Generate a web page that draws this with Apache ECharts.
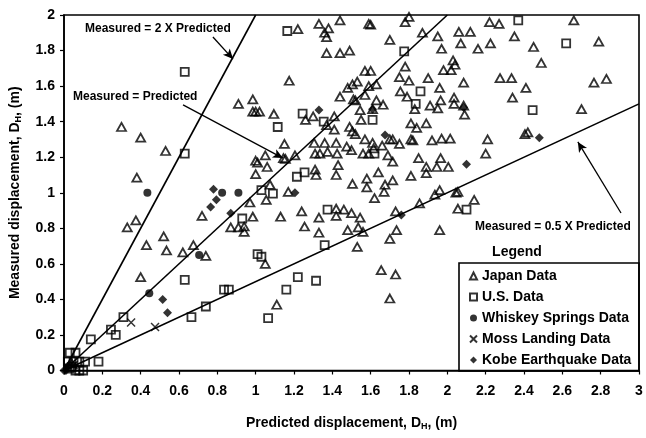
<!DOCTYPE html>
<html>
<head>
<meta charset="utf-8">
<script src="https://cdn.jsdelivr.net/npm/echarts@6/dist/echarts.min.js"></script>
<style>html,body{margin:0;padding:0;background:#fff}#c{width:646px;height:438px}</style>
</head>
<body>
<div id="c"></div>
<script>
// ---- data (predicted, measured) in metres ----
const japanData = [
[0.30,1.37],[0.40,1.31],[0.53,1.235],[0.38,1.085],[0.91,1.50],[0.985,1.525],[0.985,1.456],[1.00,1.456],[1.02,1.456],[1.00,1.18],[1.00,1.105],
[1.22,1.92],[1.33,1.95],[1.38,1.925],[1.36,1.90],[1.37,1.875],[1.44,1.97],[1.59,1.95],[1.60,1.945],[1.78,1.96],[1.80,1.99],[1.87,1.90],[1.95,1.88],[1.70,1.86],[1.37,1.785],[1.44,1.785],[1.49,1.80],[1.97,1.81],
[1.175,1.63],[1.57,1.685],[1.60,1.685],[1.78,1.71],[1.98,1.69],[1.75,1.65],[1.80,1.63],[1.90,1.645],[1.96,1.59],[1.48,1.59],[1.505,1.61],[1.53,1.625],[1.59,1.60],[1.63,1.61],
[1.44,1.54],[1.51,1.525],[1.52,1.52],[1.57,1.55],[1.63,1.52],[1.665,1.495],[1.755,1.57],[1.79,1.54],[1.83,1.47],[1.91,1.49],[1.95,1.475],[1.965,1.52],
[1.095,1.443],[1.26,1.41],[1.30,1.43],[1.37,1.38],[1.41,1.43],[1.41,1.355],[1.545,1.465],[1.55,1.41],[1.61,1.47],[1.81,1.39],[1.84,1.365],[1.89,1.39],[1.49,1.37],[1.505,1.345],[1.52,1.33],
[1.15,1.275],[1.05,1.21],[1.01,1.17],[1.06,1.145],[1.145,1.195],[1.155,1.19],[1.205,1.21],[1.305,1.28],[1.31,1.22],[1.335,1.22],[1.36,1.28],[1.375,1.23],[1.42,1.28],[1.425,1.22],[1.475,1.26],[1.50,1.24],[1.57,1.30],[1.61,1.28],[1.615,1.25],[1.66,1.265],[1.70,1.30],[1.715,1.30],[1.75,1.275],[1.81,1.30],[1.82,1.295],[1.92,1.295],[1.97,1.305],[2.015,1.305],
[1.56,1.22],[1.59,1.22],[1.69,1.21],[1.715,1.175],[1.85,1.195],[1.89,1.145],[1.89,1.11],[1.945,1.145],[1.965,1.195],[1.43,1.155],[1.31,1.13],[1.315,1.10],[1.42,1.10],[1.64,1.115],[1.58,1.08],[1.715,1.07],[1.81,1.095],[1.505,1.05],[1.58,1.03],[1.675,1.045],[1.075,1.045],[1.17,1.005],[1.67,1.005],[1.96,1.015],
[2.22,1.96],[2.27,1.95],[2.66,1.97],[2.06,1.905],[2.12,1.905],[2.35,1.88],[2.07,1.84],[2.16,1.81],[2.225,1.84],[2.45,1.82],[2.79,1.85],[2.49,1.73],[2.03,1.745],[2.04,1.72],[2.02,1.69],[2.275,1.645],[2.335,1.645],[2.41,1.59],[2.765,1.62],[2.83,1.64],[2.085,1.62],[2.34,1.535],[2.035,1.535],[2.035,1.50],[2.085,1.49],[2.09,1.44],[2.70,1.47],[2.405,1.33],[2.42,1.34],[2.21,1.30],[2.20,1.22],[2.005,1.145],[2.055,1.005],[2.045,1.0],
[0.33,0.805],[0.375,0.845],[0.72,0.87],[0.97,0.945],[0.985,0.865],[0.87,0.805],[0.91,0.805],[0.94,0.81],[0.94,0.78],[0.43,0.705],[0.52,0.755],[0.535,0.675],[0.62,0.665],[0.675,0.705],[0.74,0.645],[0.40,0.525],
[1.055,0.96],[1.62,0.97],[1.935,0.99],[1.855,0.94],[1.13,0.865],[1.24,0.895],[1.33,0.86],[1.42,0.91],[1.46,0.905],[1.50,0.885],[1.545,0.86],[1.42,0.87],[1.73,0.895],[1.255,0.81],[1.33,0.775],[1.48,0.79],[1.535,0.805],[1.56,0.78],[1.735,0.79],[1.70,0.74],[1.96,0.79],[1.05,0.60],[1.53,0.695],[1.11,0.37],[1.655,0.565],[1.73,0.54],[1.70,0.405],[2.055,0.91],[2.14,0.96],[0.04,0.04]
];
const usData = [
[0.63,1.68],[0.63,1.22],[1.165,1.91],[1.775,1.795],[1.86,1.57],[1.835,1.50],[1.245,1.445],[1.115,1.37],[1.355,1.40],[1.61,1.41],[1.62,1.22],[1.215,1.09],[1.255,1.115],[1.03,1.015],[1.09,0.995],[2.37,1.97],[2.62,1.84],[2.445,1.465],
[0.93,0.855],[1.01,0.655],[1.03,0.64],[0.63,0.51],[0.835,0.455],[0.86,0.455],[0.74,0.36],[0.665,0.30],[0.31,0.30],[0.245,0.23],[0.27,0.20],[0.14,0.175],[0.18,0.05],
[1.375,0.905],[1.36,0.705],[1.22,0.525],[1.315,0.505],[1.16,0.455],[1.065,0.295],[2.10,0.905],
[0.03,0.10],[0.06,0.10],[0.02,0.05],[0.05,0.05],[0.08,0.05],[0.11,0.05],[0.03,0.01],[0.06,0.0],[0.08,0.0],[0.10,0.0],[0.04,0.02]
];
const whiskeyData = [[0.435,1.0],[0.825,1.0],[0.91,1.0],[0.445,0.435],[0.705,0.65],[0.02,0.02]];
const mossData = [[0.35,0.27],[0.475,0.245],[0.05,0.03]];
const kobeData = [[1.205,1.0],[0.78,1.02],[0.795,0.96],[0.765,0.92],[0.87,0.885],[0.515,0.40],[0.54,0.325],[1.33,1.465],[1.61,1.47],[1.675,1.325],[1.76,0.875],[2.085,1.48],[2.48,1.31],[2.10,1.16],[0.0,0.0],[0.01,0.0]];
// reference lines
const lineTwice = [[0,0],[1,2]];
const lineEqual = [[0,0],[2,2]];
const lineHalf = [[0,0],[3,1.5]];
// annotation arrows (from, to) in data units
const arrows = [
  [[0.777,1.876],[0.882,1.752]],
  [[0.621,1.494],[1.142,1.195]],
  [[2.906,0.886],[2.681,1.286]]
];
const seriesNames = ['Japan Data','U.S. Data','Whiskey Springs Data','Moss Landing Data','Kobe Earthquake Data'];
const xTicks = {min:0, max:3, interval:0.2};
const yTicks = {min:0, max:2, interval:0.2};

const FONT = '"Liberation Sans", Arial, Helvetica, sans-serif';
const chart = echarts.init(document.getElementById('c'));
const hollow = {color:'rgba(255,255,255,0)', borderColor:'#000', borderWidth:1.8};
const solid = {color:'#000', borderColor:'#000', borderWidth:0};
const fmt = v => String(+v.toFixed(1));
const refLine = d => ({type:'line', data:d, symbol:'none', silent:true, z:1,
  lineStyle:{color:'#000', width:1.6}, animation:false});

chart.setOption({
  animation:false,
  backgroundColor:'#fff',
  grid:{left:64, right:7, top:15, bottom:67.5, show:true, borderColor:'#000', borderWidth:1.6, backgroundColor:'transparent'},
  xAxis:{type:'value', min:xTicks.min, max:xTicks.max, interval:xTicks.interval,
    splitLine:{show:false},
    axisLine:{show:true, onZero:false, lineStyle:{color:'#000', width:1.6}},
    axisTick:{show:true, inside:false, length:4, lineStyle:{color:'#000', width:1.2}},
    axisLabel:{formatter:fmt, color:'#000', fontFamily:FONT, fontWeight:'bold', fontSize:14, margin:14},
    name:'{a|Predicted displacement, D}{b|H}{a|, (m)}', nameLocation:'middle', nameGap:45,
    nameTextStyle:{rich:{
      a:{fontFamily:FONT, fontWeight:'bold', fontSize:14, color:'#000', lineHeight:16},
      b:{fontFamily:FONT, fontWeight:'bold', fontSize:9, color:'#000', lineHeight:9, verticalAlign:'bottom'}}}
  },
  yAxis:{type:'value', min:yTicks.min, max:yTicks.max, interval:yTicks.interval,
    splitLine:{show:false},
    axisLine:{show:true, onZero:false, lineStyle:{color:'#000', width:1.6}},
    axisTick:{show:true, inside:false, length:4, lineStyle:{color:'#000', width:1.2}},
    axisLabel:{formatter:fmt, color:'#000', fontFamily:FONT, fontWeight:'bold', fontSize:14, margin:9},
    name:'{a|Measured displacement, D}{b|H}{a|, (m)}', nameLocation:'middle', nameGap:41,
    nameTextStyle:{rich:{
      a:{fontFamily:FONT, fontWeight:'bold', fontSize:14, color:'#000', lineHeight:16},
      b:{fontFamily:FONT, fontWeight:'bold', fontSize:9, color:'#000', lineHeight:9, verticalAlign:'bottom'}}}
  },
  legend:{data:seriesNames, orient:'vertical', left:469, top:269, itemWidth:7, itemHeight:7, itemGap:7, padding:0,
    selectedMode:false,
    textStyle:{fontFamily:FONT, fontWeight:'bold', fontSize:14, color:'#000'}},
  graphic:[
    {type:'rect', shape:{x:459, y:263, width:180, height:108}, style:{fill:'#fff', stroke:'#000', lineWidth:1.6}, z:-1},
    {type:'text', x:517, y:252, style:{text:'Legend', fontFamily:FONT, fontWeight:'bold', fontSize:14, fill:'#000', align:'center', verticalAlign:'middle'}},
    {type:'text', x:85, y:29, style:{text:'Measured = 2 X Predicted', fontFamily:FONT, fontWeight:'bold', fontSize:12, fill:'#000', verticalAlign:'middle'}},
    {type:'text', x:73, y:97, style:{text:'Measured = Predicted', fontFamily:FONT, fontWeight:'bold', fontSize:12, fill:'#000', verticalAlign:'middle'}},
    {type:'text', x:475, y:227, style:{text:'Measured = 0.5 X Predicted', fontFamily:FONT, fontWeight:'bold', fontSize:12, fill:'#000', verticalAlign:'middle'}}
  ],
  series:[
    refLine(lineTwice),
    refLine(lineEqual),
    Object.assign(refLine(lineHalf), {
      markLine:{silent:true, symbol:['none','arrow'], symbolSize:[7,10], label:{show:false},
        lineStyle:{color:'#000', width:1.3, type:'solid'},
        data:arrows.map(a => [{coord:a[0]},{coord:a[1]}])}
    }),
    {name:seriesNames[0], type:'scatter', data:japanData, symbol:'triangle', symbolSize:[9,8], itemStyle:hollow, z:3},
    {name:seriesNames[1], type:'scatter', data:usData, symbol:'rect', symbolSize:8, itemStyle:hollow, z:3},
    {name:seriesNames[2], type:'scatter', data:whiskeyData, symbol:'circle', symbolSize:8, itemStyle:solid, z:4},
    {name:seriesNames[3], type:'scatter', data:mossData, symbol:'path://M0,0L10,10M10,0L0,10', symbolSize:8,
      itemStyle:{color:'rgba(0,0,0,0)', borderColor:'#000', borderWidth:1.5}, z:4},
    {name:seriesNames[4], type:'scatter', data:kobeData, symbol:'diamond', symbolSize:9, itemStyle:solid, z:4}
  ]
});
</script>
</body>
</html>
